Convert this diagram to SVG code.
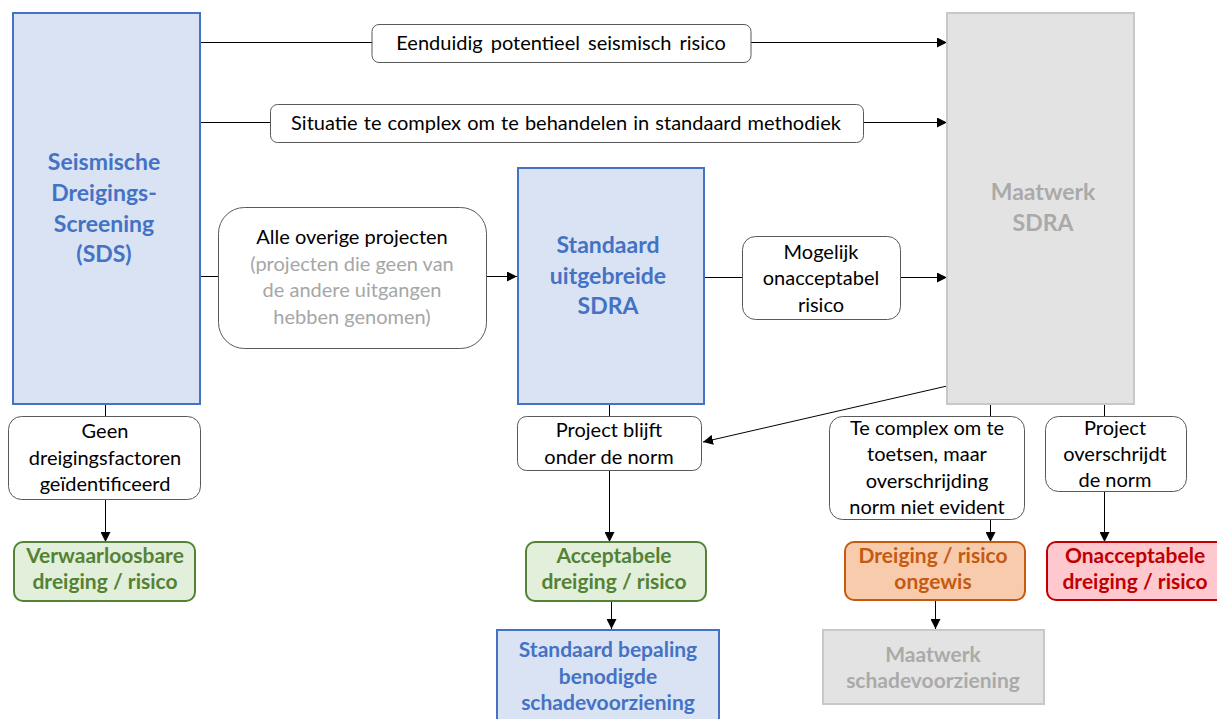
<svg xmlns="http://www.w3.org/2000/svg" width="1217" height="719" viewBox="0 0 1217 719">
<style>
text{font-family:Lato,"Open Sans","Liberation Sans",sans-serif;text-anchor:middle}
.lbl{font-size:20px;fill:#000}
.gry{font-size:20px;fill:#a6a6a6}
.ttl{font-size:23px;font-weight:bold}
.sm{font-size:21px;font-weight:bold}
.box{fill:#fff;stroke:#595959;stroke-width:1}
.blue{fill:#dae3f3;stroke:#4472c4;stroke-width:2}
.grey{fill:#e3e3e3;stroke:#c8c8c8;stroke-width:2}
.green{fill:#e2efda;stroke:#548235;stroke-width:2}
.orange{fill:#f8cbad;stroke:#c55a11;stroke-width:2}
.red{fill:#ffc7ce;stroke:#c00000;stroke-width:2}
.c{stroke:#000;stroke-width:1;fill:none}
.ca{stroke:#000;stroke-width:1;fill:none;marker-end:url(#ah)}
</style>
<defs>
<marker id="ah" viewBox="0 0 10 10" refX="10" refY="5" markerWidth="10" markerHeight="10" markerUnits="userSpaceOnUse" orient="auto">
<path d="M0,0 L10,5 L0,10 z" fill="#000"/>
</marker>
</defs>
<rect width="1217" height="719" fill="#fff"/>
<g id="connectors">
<path class="c" d="M200,42.5 H372"/>
<path class="ca" d="M751,42.5 H947"/>
<path class="c" d="M200,122.5 H270"/>
<path class="ca" d="M864,122.5 H947"/>
<path class="c" d="M200,276.5 H218"/>
<path class="ca" d="M487,276.5 H517"/>
<path class="c" d="M704,277.5 H742"/>
<path class="ca" d="M901,277.5 H947"/>
<path class="ca" d="M947,386 L703,442"/>
<path class="c" d="M105.5,404 V416"/>
<path class="ca" d="M105.5,500 V542"/>
<path class="c" d="M609.5,404 V416"/>
<path class="ca" d="M609.5,471 V542"/>
<path class="ca" d="M611.5,601 V629"/>
<path class="c" d="M990.5,404 V416"/>
<path class="ca" d="M990.5,520 V542"/>
<path class="ca" d="M935.5,600 V629"/>
<path class="c" d="M1104.5,404 V416"/>
<path class="ca" d="M1104.5,491 V542"/>
</g>
<g id="sds">
<rect class="blue" x="13" y="13" width="187" height="391"/>
<text class="ttl" fill="#4472c4"><tspan x="104" y="170">Seismische</tspan><tspan x="104" y="201">Dreigings-</tspan><tspan x="104" y="232">Screening</tspan><tspan x="104" y="262">(SDS)</tspan></text>
</g>
<g id="maatwerk-sdra">
<rect class="grey" x="947" y="13" width="187" height="391"/>
<text class="ttl" fill="#aaaaaa"><tspan x="1043" y="200">Maatwerk</tspan><tspan x="1043" y="231">SDRA</tspan></text>
</g>
<g id="standaard-sdra">
<rect class="blue" x="518" y="168" width="186" height="236"/>
<text class="ttl" fill="#4472c4"><tspan x="608" y="253">Standaard</tspan><tspan x="608" y="284">uitgebreide</tspan><tspan x="608" y="314">SDRA</tspan></text>
</g>
<g id="eenduidig">
<rect class="box" x="372" y="24.5" width="379" height="38" rx="7"/>
<text class="lbl" x="561" y="50" word-spacing="3">Eenduidig potentieel seismisch risico</text>
</g>
<g id="situatie">
<rect class="box" x="270.5" y="104.5" width="593" height="38" rx="7"/>
<text class="lbl" x="566" y="130" word-spacing="1">Situatie te complex om te behandelen in standaard methodiek</text>
</g>
<g id="overige">
<rect class="box" x="218.5" y="207.5" width="268" height="141" rx="26"/>
<text class="lbl" x="352" y="244">Alle overige projecten</text>
<text class="gry"><tspan x="352" y="271">(projecten die geen van</tspan><tspan x="352" y="297">de andere uitgangen</tspan><tspan x="352" y="324">hebben genomen)</tspan></text>
</g>
<g id="mogelijk">
<rect class="box" x="742.5" y="236.5" width="158" height="83" rx="13"/>
<text class="lbl"><tspan x="821" y="259">Mogelijk</tspan><tspan x="821" y="285">onacceptabel</tspan><tspan x="821" y="312">risico</tspan></text>
</g>
<g id="geen">
<rect class="box" x="8.5" y="416.5" width="192" height="83" rx="13"/>
<text class="lbl"><tspan x="105" y="438">Geen</tspan><tspan x="105" y="465">dreigingsfactoren</tspan><tspan x="105" y="491">geïdentificeerd</tspan></text>
</g>
<g id="blijft">
<rect class="box" x="517.5" y="416.5" width="184" height="54" rx="9"/>
<text class="lbl"><tspan x="609" y="437">Project blijft</tspan><tspan x="609" y="464">onder de norm</tspan></text>
</g>
<g id="tecomplex">
<rect class="box" x="829.5" y="416.5" width="195" height="103" rx="13"/>
<text class="lbl"><tspan x="927" y="435">Te complex om te</tspan><tspan x="927" y="461">toetsen, maar</tspan><tspan x="927" y="488">overschrijding</tspan><tspan x="927" y="514">norm niet evident</tspan></text>
</g>
<g id="overschrijdt">
<rect class="box" x="1045.5" y="416.5" width="141" height="75" rx="13"/>
<text class="lbl"><tspan x="1115" y="435">Project</tspan><tspan x="1115" y="461">overschrijdt</tspan><tspan x="1115" y="487">de norm</tspan></text>
</g>
<g id="verwaarloosbaar">
<rect class="green" x="14" y="542" width="181" height="59" rx="9"/>
<text class="sm" fill="#548235"><tspan x="105" y="563">Verwaarloosbare</tspan><tspan x="105" y="589">dreiging / risico</tspan></text>
</g>
<g id="acceptabel">
<rect class="green" x="526" y="542" width="180" height="59" rx="9"/>
<text class="sm" fill="#548235"><tspan x="614" y="563">Acceptabele</tspan><tspan x="614" y="589">dreiging / risico</tspan></text>
</g>
<g id="ongewis">
<rect class="orange" x="845" y="542" width="180" height="58" rx="9"/>
<text class="sm" fill="#c55a11"><tspan x="933" y="563">Dreiging / risico</tspan><tspan x="933" y="589">ongewis</tspan></text>
</g>
<g id="onacceptabel">
<rect class="red" x="1047" y="542" width="180" height="58" rx="9"/>
<text class="sm" fill="#c00000"><tspan x="1135" y="563">Onacceptabele</tspan><tspan x="1135" y="589">dreiging / risico</tspan></text>
</g>
<g id="standaard-bepaling">
<rect class="blue" x="497" y="630" width="222" height="100"/>
<text class="sm" fill="#4472c4"><tspan x="608" y="657">Standaard bepaling</tspan><tspan x="608" y="684">benodigde</tspan><tspan x="608" y="710">schadevoorziening</tspan></text>
</g>
<g id="maatwerk-schade">
<rect class="grey" x="823" y="630" width="221" height="74"/>
<text class="sm" fill="#aaaaaa"><tspan x="933" y="662">Maatwerk</tspan><tspan x="933" y="688">schadevoorziening</tspan></text>
</g>
</svg>
